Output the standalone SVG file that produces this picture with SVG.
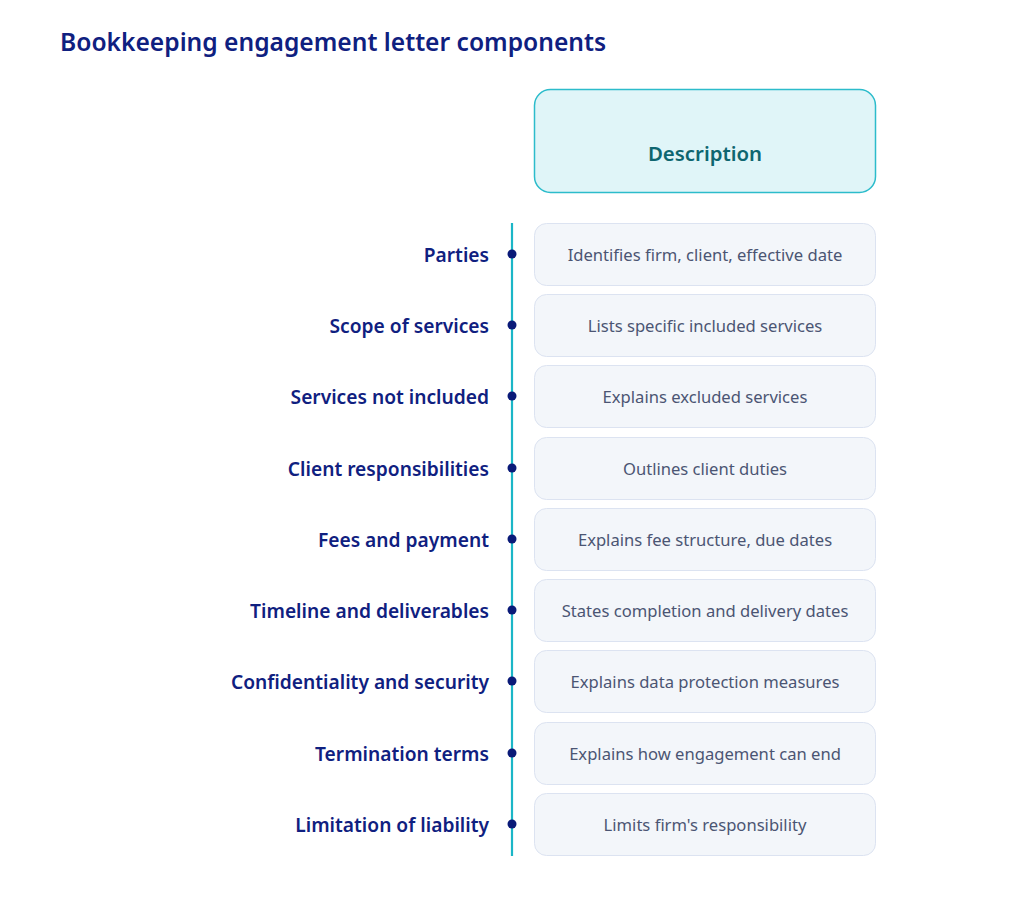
<svg xmlns="http://www.w3.org/2000/svg" width="1024" height="918" viewBox="0 0 1024 918">
<style>
.title{font-family:"Noto Sans","Open Sans",sans-serif;font-size:24.6px;font-weight:600;fill:#0f2080}
.hdr{fill:#e0f5f8;stroke:#2cbccb;stroke-width:1.5}
.hdrt{font-family:"Noto Sans","Open Sans",sans-serif;font-size:20.4px;font-weight:600;fill:#0e6670;text-anchor:middle}
.box{fill:#f3f6fa;stroke:#dce3f1;stroke-width:1}
.desc{font-family:"Noto Sans","Open Sans",sans-serif;font-size:16.6px;fill:#4b5573;text-anchor:middle}
.lbl{font-family:"Noto Sans","Open Sans",sans-serif;font-size:19.2px;font-weight:600;fill:#0f2080;text-anchor:end}
.dot{fill:#0a1a78}
</style>
<rect width="1024" height="918" fill="#ffffff"/>
<text class="title" x="60" y="51">Bookkeeping engagement letter components</text>
<g id="header">
<rect class="hdr" x="534.5" y="89.5" width="341" height="103" rx="16"/>
<text class="hdrt" x="705" y="161">Description</text>
</g>
<g id="connectors">
<line x1="512" y1="223" x2="512" y2="856" stroke="#1bb6c7" stroke-width="2.2"/>
</g>
<g id="row1"><circle class="dot" cx="512" cy="254" r="4.5"/><text class="lbl" x="489" y="262">Parties</text><rect class="box" x="534.5" y="223.5" width="341" height="62" rx="12"/><text class="desc" x="705" y="261">Identifies firm, client, effective date</text></g>
<g id="row2"><circle class="dot" cx="512" cy="325" r="4.5"/><text class="lbl" x="489" y="333">Scope of services</text><rect class="box" x="534.5" y="294.5" width="341" height="62" rx="12"/><text class="desc" x="705" y="332">Lists specific included services</text></g>
<g id="row3"><circle class="dot" cx="512" cy="396" r="4.5"/><text class="lbl" x="489" y="404">Services not included</text><rect class="box" x="534.5" y="365.5" width="341" height="62" rx="12"/><text class="desc" x="705" y="403">Explains excluded services</text></g>
<g id="row4"><circle class="dot" cx="512" cy="468" r="4.5"/><text class="lbl" x="489" y="476">Client responsibilities</text><rect class="box" x="534.5" y="437.5" width="341" height="62" rx="12"/><text class="desc" x="705" y="475">Outlines client duties</text></g>
<g id="row5"><circle class="dot" cx="512" cy="539" r="4.5"/><text class="lbl" x="489" y="547">Fees and payment</text><rect class="box" x="534.5" y="508.5" width="341" height="62" rx="12"/><text class="desc" x="705" y="546">Explains fee structure, due dates</text></g>
<g id="row6"><circle class="dot" cx="512" cy="610" r="4.5"/><text class="lbl" x="489" y="618">Timeline and deliverables</text><rect class="box" x="534.5" y="579.5" width="341" height="62" rx="12"/><text class="desc" x="705" y="617">States completion and delivery dates</text></g>
<g id="row7"><circle class="dot" cx="512" cy="681" r="4.5"/><text class="lbl" x="489" y="689">Confidentiality and security</text><rect class="box" x="534.5" y="650.5" width="341" height="62" rx="12"/><text class="desc" x="705" y="688">Explains data protection measures</text></g>
<g id="row8"><circle class="dot" cx="512" cy="753" r="4.5"/><text class="lbl" x="489" y="761">Termination terms</text><rect class="box" x="534.5" y="722.5" width="341" height="62" rx="12"/><text class="desc" x="705" y="760">Explains how engagement can end</text></g>
<g id="row9"><circle class="dot" cx="512" cy="824" r="4.5"/><text class="lbl" x="489" y="832">Limitation of liability</text><rect class="box" x="534.5" y="793.5" width="341" height="62" rx="12"/><text class="desc" x="705" y="831">Limits firm's responsibility</text></g>
</svg>
